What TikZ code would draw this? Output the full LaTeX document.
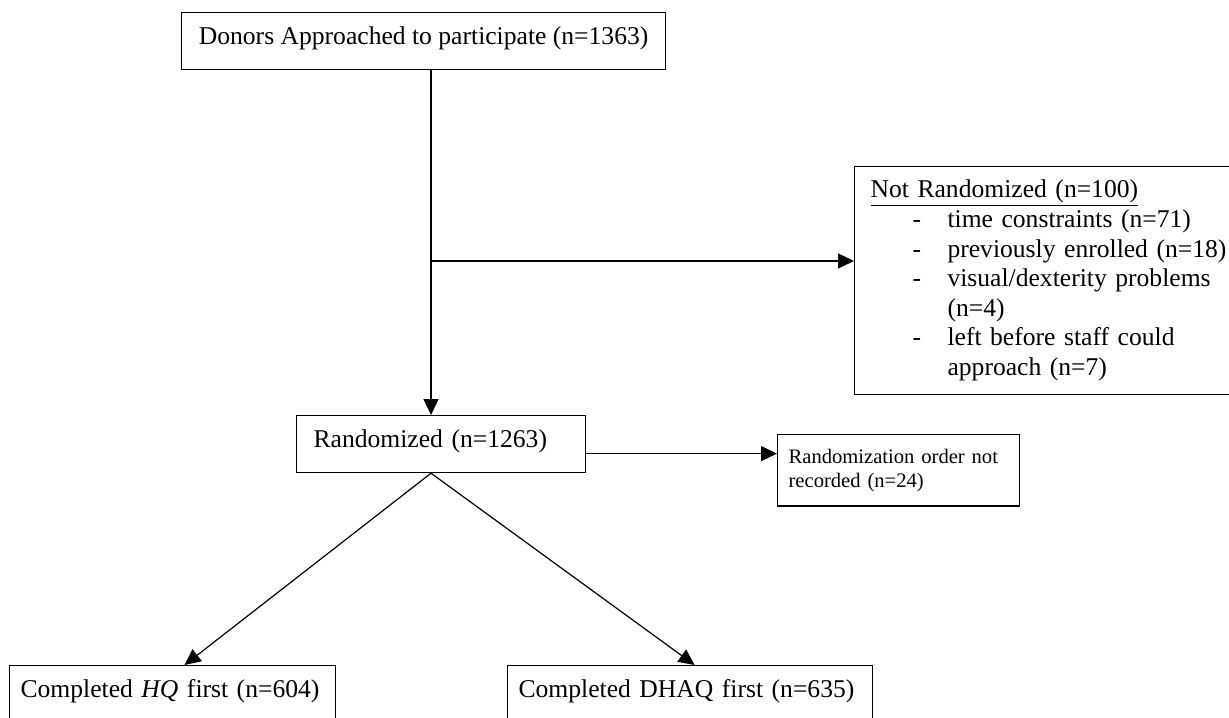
\documentclass[tikz,border=0pt]{standalone}
\usepackage{fontspec}
\setmainfont{Liberation Serif}
\usetikzlibrary{arrows.meta}
\tikzset{box/.style={draw, line width=0.6pt, anchor=north west, inner ysep=0pt, text height=16pt, text depth=12.5pt}}
\tikzset{note/.style={draw, line width=0.6pt, anchor=north west, align=left}}
\tikzset{arr/.style={line width=0.6pt, -{Triangle[length=8pt,width=7.5pt]}}}

\begin{document}
\begin{tikzpicture}[x=0.5pt, y=-0.5pt, font=\fontsize{12.8}{14.8}\selectfont]
    \useasboundingbox (0,0) rectangle (1229,717);
    \node[box, minimum width=242pt] (donors) at (181,12) {Donors Approached to participate (n=1363)};
    \node[note, inner xsep=8pt, inner ysep=5pt, text width=200pt] (notrand) at (854,166) {%
        \begin{tabular}{@{\hspace{21pt}}l@{\hspace{13.2pt}}l@{}}
            \multicolumn{2}{@{}l@{}}{\underline{Not Randomized (n=100)}}\\
            - & time constraints (n=71)\\
            - & previously enrolled (n=18)\\
            - & visual/dexterity problems\\
              & (n=4)\\
            - & left before staff could\\
              & approach (n=7)
        \end{tabular}};
    \node[box, inner xsep=8.5pt, text width=127.5pt, align=left] (rand) at (296,415) {Randomized (n=1263)};
    \node[note, inner xsep=5.5pt, inner ysep=7.2pt, text width=110pt, font=\fontsize{10.3}{12}\selectfont] (norec) at (777,434) {Randomization order not\\recorded (n=24)};
    \node[box, inner xsep=5.5pt, text width=152pt, align=left] (hq) at (9,665) {Completed \textit{HQ} first (n=604)};
    \node[box, inner xsep=5.5pt, text width=171.5pt, align=left] (dhaq) at (507,665) {Completed DHAQ first (n=635)};
    \coordinate (split) at (431,261);
    \draw[line width=0.6pt] (donors.south -| split) -- (split);
    \draw[arr] (split) -- (split -| notrand.west);
    \draw[arr] (split) -- (split |- rand.north);
    \draw[arr] ([yshift=-4.75pt]rand.east) -- ([yshift=-4.75pt]rand.east -| norec.west);
    \draw[arr] (split |- rand.south) -- ([xshift=6pt]hq.north);
    \draw[arr] (split |- rand.south) -- ([xshift=2.25pt]dhaq.north);
\end{tikzpicture}
\end{document}
